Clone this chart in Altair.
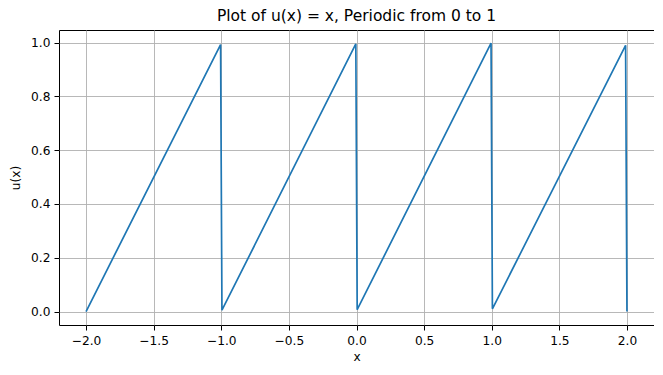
import altair as alt
import pandas as pd

# Sawtooth vertices
xs = [-2.0, -1.005, -0.995, -0.005, 0.005, 0.995, 1.005, 1.99, 2.0]
us = [0.0, 0.993, 0.005, 0.995, 0.007, 0.998, 0.010, 0.990, 0.0]

x_ticks = [-2.0, -1.5, -1.0, -0.5, 0.0, 0.5, 1.0, 1.5, 2.0]
y_ticks = [0.0, 0.2, 0.4, 0.6, 0.8, 1.0]

df = pd.DataFrame({"x": xs, "u": us})

FONT = "DejaVu Sans"

chart = alt.Chart(df).mark_line(color="#1f77b4", strokeWidth=1.7).encode(
    x=alt.X("x:Q",
            scale=alt.Scale(domain=[-2.2, 2.2], nice=False, zero=False),
            axis=alt.Axis(values=x_ticks, format=".1f", title="x",
                          titlePadding=4)),
    y=alt.Y("u:Q",
            scale=alt.Scale(domain=[-0.05, 1.047], nice=False, zero=False),
            axis=alt.Axis(values=y_ticks, format=".1f", title="u(x)",
                          titlePadding=8)),
).properties(
    width=595,
    height=295,
    title=alt.TitleParams("Plot of u(x) = x, Periodic from 0 to 1",
                          font=FONT, fontSize=15.5, fontWeight="normal",
                          color="black", anchor="middle", offset=6),
    autosize=alt.AutoSizeParams(type="none"),
    padding={"left": 51, "top": 22, "right": 0, "bottom": 40},
).configure_view(
    stroke="black", strokeWidth=1
).configure_axis(
    domain=False,
    grid=True,
    gridColor="#b0b0b0",
    gridWidth=0.9,
    tickColor="black",
    tickSize=5,
    tickWidth=1,
    labelFont=FONT,
    labelFontSize=12.2,
    labelColor="black",
    labelPadding=4,
    titleFont=FONT,
    titleFontSize=12.2,
    titleFontWeight="normal",
    titleColor="black",
)

chart.save("out.html", embed_options={"renderer": "svg", "actions": False})
